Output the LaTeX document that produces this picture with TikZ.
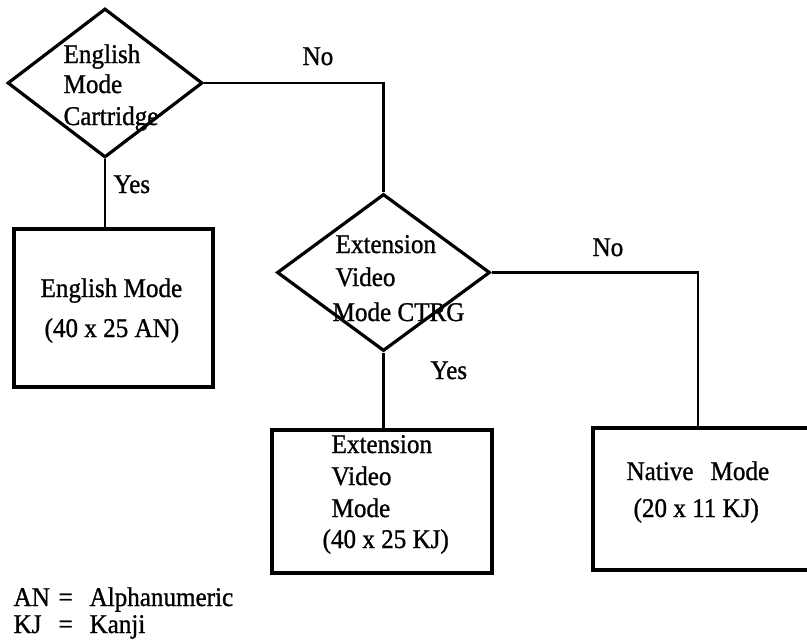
\documentclass[tikz,border=0pt]{standalone}
\usepackage{fontspec}
\setmainfont{Liberation Serif}[FakeStretch=0.93, FakeBold=1]
\usetikzlibrary{shapes.geometric}
\begin{document}
\begin{tikzpicture}[x=1pt,y=-1pt,
  line width=3.2pt,
  decision/.style={draw, diamond, inner sep=0pt},
  modebox/.style={draw, rectangle, inner sep=0pt},
  txt/.style={anchor=base west, inner sep=0pt, font=\fontsize{27}{32}\selectfont},
  conn/.style={line width=2.8pt}]
\useasboundingbox (0,0) rectangle (807,640);
\clip (0,0) rectangle (807,640);
% decisions
\node[decision, minimum width=195pt, minimum height=149pt] (d1) at (105,83) {};
\node[decision, minimum width=213pt, minimum height=157pt] (d2) at (383.5,272.5) {};
% boxes
\node[modebox, minimum width=199pt, minimum height=158pt] (b1) at (113.5,308) {};
\node[modebox, minimum width=220pt, minimum height=143pt] (b2) at (382,501.5) {};
\node[modebox, minimum width=219pt, minimum height=142pt] (b3) at (702.5,499) {};
\coordinate (c3) at (698,428);
% connectors
\draw[conn] (d1.south) -- (d1.south |- b1.north);
\draw[conn] (d1.east) -| (d2.north);
\draw[conn] (d2.south) -- (d2.south |- b2.north);
\draw[conn] (d2.east) -| (c3);
% diamond texts
\node[txt] (t1) at (62,63) {English};
\node[txt] (t2) at (62,93) {Mode};
\node[txt] (t3) at (62,125) {Cartridge};
\node[txt] (t4) at (334,253) {Extension};
\node[txt] (t5) at (334,286) {Video};
\node[txt] (t6) at (331,321) {Mode CTRG};
% box texts
\node[txt] (t7) at (39,297) {English Mode};
\node[txt] (t8) at (43,337) {(40 x 25 AN)};
\node[txt] (t9) at (330,453) {Extension};
\node[txt] (t10) at (330,485) {Video};
\node[txt] (t11) at (330,517) {Mode};
\node[txt] (t12) at (321,548) {(40 x 25 KJ)};
\node[txt] (t13) at (625,480) {Native\ \ \,Mode};
\node[txt] (t14) at (632,517) {(20 x 11 KJ)};
% connector labels
\node[txt] (l1) at (301,65) {No};
\node[txt] (l2) at (112,193) {Yes};
\node[txt] (l3) at (591,256) {No};
\node[txt] (l4) at (429,379) {Yes};
% legend
\node[txt] (g1) at (12,606) {\makebox[43pt][l]{AN}\makebox[33pt][l]{\hspace{2pt}=}Alphanumeric};
\node[txt] (g2) at (12,633) {\makebox[43pt][l]{KJ}\makebox[33pt][l]{\hspace{2pt}=}Kanji};
\end{tikzpicture}
\end{document}
